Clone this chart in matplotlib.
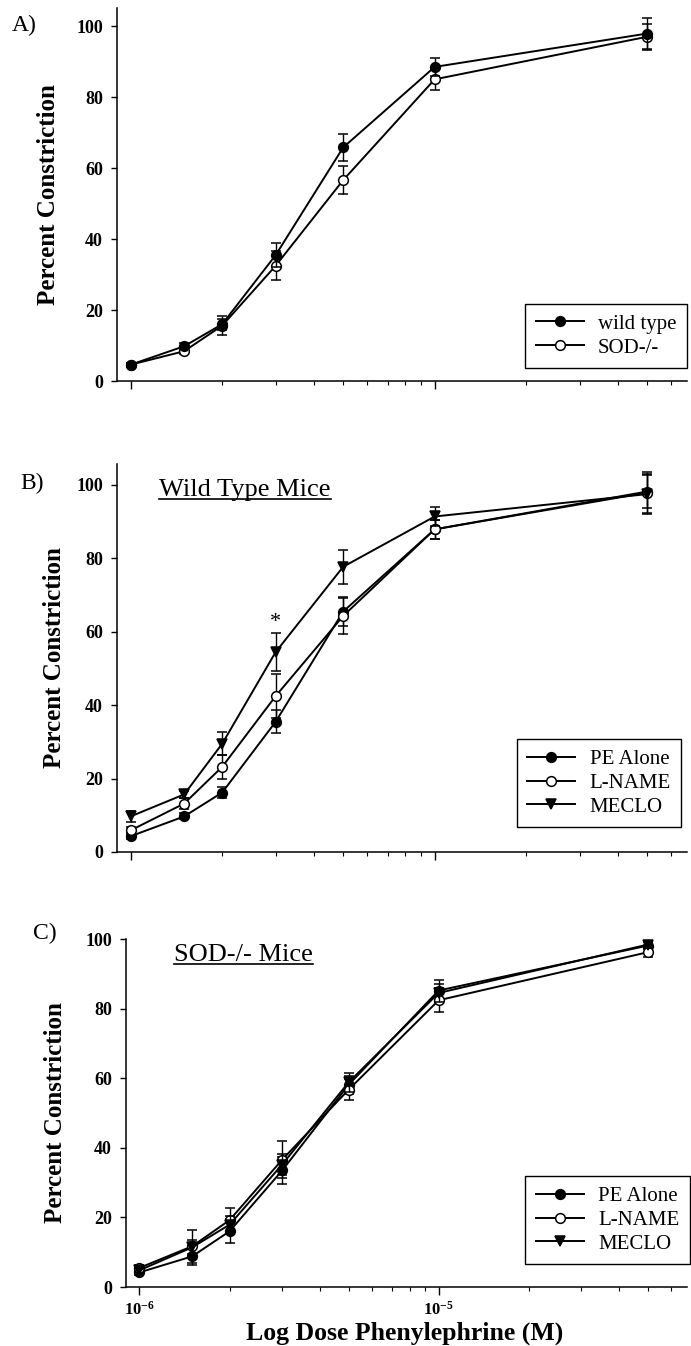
import matplotlib
matplotlib.use('Agg')
import matplotlib.pyplot as plt
from matplotlib.ticker import LogLocator, FixedLocator, NullFormatter, FixedFormatter
from matplotlib.lines import Line2D

plt.rcParams['font.family'] = ['Liberation Serif', 'DejaVu Serif']
plt.rcParams['mathtext.fontset'] = 'custom'
plt.rcParams['mathtext.rm'] = 'Liberation Serif'
plt.rcParams['mathtext.bf'] = 'Liberation Serif:bold'

# ---- data ----
dose = [1e-6, 1.5e-6, 2e-6, 3e-6, 5e-6, 1e-5, 5e-5]

# Panel A
a_wild = [4.6, 9.8, 16.0, 35.5, 65.8, 88.5, 97.9]
a_wild_err = [0.6, 0.8, 1.5, 3.3, 3.8, 2.5, 4.3]
a_sod = [4.6, 8.4, 15.6, 32.5, 56.6, 85.0, 97.0]
a_sod_err = [0.6, 0.8, 2.6, 4.0, 4.0, 3.0, 3.6]

# Panel B (wild type mice)
b_pe = [4.3, 9.7, 16.2, 35.5, 65.5, 87.9, 98.2]
b_pe_err = [0.8, 0.8, 1.5, 3.2, 4.0, 2.5, 4.5]
b_lname = [5.9, 13.2, 23.2, 42.5, 64.3, 87.9, 97.9]
b_lname_err = [1.0, 1.5, 3.2, 6.0, 5.0, 2.5, 5.5]
b_meclo = [9.7, 15.7, 29.5, 54.5, 77.7, 91.4, 97.5]
b_meclo_err = [1.6, 1.0, 3.2, 5.2, 4.6, 2.7, 5.5]

# Panel C (SOD-/- mice)
c_pe = [4.2, 8.8, 16.0, 33.5, 58.1, 85.2, 98.1]
c_pe_err = [0.8, 2.6, 3.4, 3.8, 2.5, 3.0, 1.0]
c_lname = [5.5, 11.7, 19.2, 36.6, 56.7, 82.4, 96.2]
c_lname_err = [0.8, 4.8, 3.5, 5.3, 3.0, 3.5, 1.5]
c_meclo = [4.8, 11.4, 17.9, 35.2, 58.8, 84.5, 98.4]
c_meclo_err = [0.8, 2.0, 2.5, 3.0, 2.7, 2.5, 1.0]

yticks = [0, 20, 40, 60, 80, 100]
xtick_vals = [1e-6, 1e-5]
xtick_labels = [r'$\mathbf{10^{-6}}$', r'$\mathbf{10^{-5}}$']

W, H = 691, 1346
fig = plt.figure(figsize=(W / 100, H / 100), dpi=100)


def px_axes(left, right, top, bottom):
    return fig.add_axes([left / W, 1 - bottom / H, (right - left) / W, (bottom - top) / H])


axA = px_axes(117, 687, 8, 381)
axB = px_axes(117, 687, 464, 852)
axC = px_axes(126, 687, 939, 1287)

styles = {
    'filled': dict(marker='o', mfc='black', mec='black'),
    'open': dict(marker='o', mfc='white', mec='black'),
    'tri': dict(marker='v', mfc='black', mec='black'),
}


def series(ax, y, err, style, label, z):
    c = ax.errorbar(dose, y, yerr=err, color='black', lw=1.4, ms=7, mew=1.1,
                    capsize=3.5, elinewidth=1.0, capthick=1.0, label=label,
                    zorder=z, **styles[style])
    return c[0]


def style_axes(ax, ylim_top, show_xlabels):
    ax.set_xscale('log')
    ax.set_xlim(10 ** -6.045, 10 ** -4.17)
    ax.set_ylim(0, ylim_top)
    for s in ['top', 'right']:
        ax.spines[s].set_visible(False)
    for s in ['left', 'bottom']:
        ax.spines[s].set_linewidth(1.1)
    ax.yaxis.set_major_locator(FixedLocator(yticks))
    ax.set_yticklabels([str(v) for v in yticks], fontweight='bold', fontsize=13)
    ax.tick_params(axis='y', direction='out', length=4, width=1, pad=6)
    ax.xaxis.set_major_locator(FixedLocator(xtick_vals))
    ax.xaxis.set_minor_locator(LogLocator(base=10, subs=[2, 3, 4, 5, 6, 7, 8, 9], numticks=20))
    ax.xaxis.set_minor_formatter(NullFormatter())
    ax.tick_params(axis='x', which='major', direction='out', length=6, width=1, pad=4)
    ax.tick_params(axis='x', which='minor', direction='out', length=3, width=0.8)
    if show_xlabels:
        ax.xaxis.set_major_formatter(FixedFormatter(xtick_labels))
        ax.tick_params(axis='x', which='major', labelsize=12)
    else:
        ax.xaxis.set_major_formatter(NullFormatter())
    ax.set_ylabel('Percent Constriction', fontsize=18, fontweight='bold')


def legend(ax, handles, labels, anchor):
    lg = ax.legend(handles, labels, loc='lower right', bbox_to_anchor=anchor,
                   borderaxespad=0, frameon=True, fancybox=False, framealpha=1,
                   edgecolor='black', fontsize=15, handlelength=2.3,
                   handletextpad=0.7, labelspacing=0.2, borderpad=0.5, numpoints=1)
    lg.get_frame().set_linewidth(1.0)


# Panel A
hA1 = series(axA, a_sod, a_sod_err, 'open', 'SOD-/-', 3)
hA0 = series(axA, a_wild, a_wild_err, 'filled', 'wild type', 4)
style_axes(axA, 105.1, False)
legend(axA, [hA0, hA1], ['wild type', 'SOD-/-'], (1.0, 0.035))

# Panel B
hB0 = series(axB, b_pe, b_pe_err, 'filled', 'PE Alone', 3)
hB1 = series(axB, b_lname, b_lname_err, 'open', 'L-NAME', 4)
hB2 = series(axB, b_meclo, b_meclo_err, 'tri', 'MECLO', 5)
style_axes(axB, 105.7, False)
legend(axB, [hB0, hB1, hB2], ['PE Alone', 'L-NAME', 'MECLO'], (0.99, 0.064))
axB.text(dose[3], 62.5, '*', ha='center', va='center', fontsize=16)

# Panel C
hC0 = series(axC, c_pe, c_pe_err, 'filled', 'PE Alone', 3)
hC1 = series(axC, c_lname, c_lname_err, 'open', 'L-NAME', 4)
hC2 = series(axC, c_meclo, c_meclo_err, 'tri', 'MECLO', 5)
style_axes(axC, 100, True)
legend(axC, [hC0, hC1, hC2], ['PE Alone', 'L-NAME', 'MECLO'], (1.005, 0.066))
axC.set_xlabel('Log Dose Phenylephrine (M)', fontsize=18.5, fontweight='bold')
axC.xaxis.set_label_coords(0.497, -0.098)

axA.yaxis.set_label_coords(-0.100, 0.5)
axB.yaxis.set_label_coords(-0.089, 0.5)
axC.yaxis.set_label_coords(-0.105, 0.5)

# titles (underlined)
tB = axB.text(0.074, 0.933, 'Wild Type Mice', transform=axB.transAxes,
              fontsize=19, ha='left', va='center')
tC = axC.text(0.0856, 0.954, 'SOD-/- Mice', transform=axC.transAxes,
              fontsize=19, ha='left', va='center')

# panel letters
fig.text(12 / W, 1 - 25 / H, 'A)', fontsize=17, va='center', ha='left')
fig.text(20 / W, 1 - 483 / H, 'B)', fontsize=17, va='center', ha='left')
fig.text(33 / W, 1 - 933 / H, 'C)', fontsize=17, va='center', ha='left')

fig.canvas.draw()
r = fig.canvas.get_renderer()
for t in (tB, tC):
    bb = t.get_window_extent(renderer=r)
    y = bb.y0 + 2
    fig.add_artist(Line2D([bb.x0 / W, bb.x1 / W], [y / H, y / H],
                          transform=fig.transFigure, color='black', lw=1.2))

fig.savefig('out.png', dpi=100)
